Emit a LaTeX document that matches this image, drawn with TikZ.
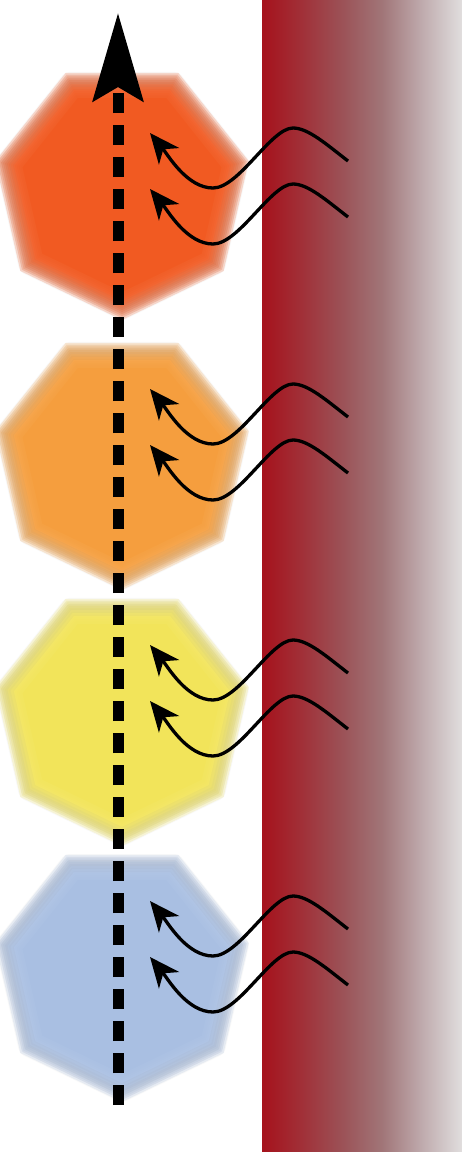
\documentclass[tikz,border=0pt]{standalone}
\usepackage{tikz}
\usetikzlibrary{arrows.meta,calc}
\usepackage{xcolor}
\definecolor{cellRed}{RGB}{241,90,34}
\definecolor{cellOrange}{RGB}{245,158,62}
\definecolor{cellYellow}{RGB}{242,228,90}
\definecolor{cellBlue}{RGB}{169,191,226}
\pgfdeclarehorizontalshading{wallshade}{100bp}{
  rgb(0bp)=(0.65,0.07,0.11); rgb(25bp)=(0.65,0.07,0.11);
  rgb(35bp)=(0.63,0.19,0.22); rgb(45bp)=(0.61,0.32,0.34);
  rgb(55bp)=(0.63,0.46,0.47); rgb(65bp)=(0.75,0.67,0.68);
  rgb(75bp)=(0.88,0.87,0.87); rgb(100bp)=(0.88,0.87,0.87)}

\begin{document}
\begin{tikzpicture}[
    x=1pt, y=-1pt,
    wall/.style={shading=wallshade},
    blur/.style={opacity=0.22},
    rim/.style={gray, opacity=0.05, line join=round},
    axis/.style={line width=11pt, dash pattern=on 20pt off 12pt,
        -{Stealth[length=88pt, width=50pt, inset=14pt]}},
    heat/.style={line width=3.3pt, -{Stealth[length=30pt, width=26pt, inset=9pt]}},
]
\useasboundingbox (0, 0) rectangle (462, 1152);
\shade[wall] (262, 0) rectangle (462, 1152);
% blurred heptagons
\foreach \cy/\col [count=\i] in {190/cellRed, 460/cellOrange, 716/cellYellow, 972/cellBlue} {
  \coordinate (cell-\i) at (122, \cy);
  \foreach \r in {130, 128, ..., 102}
    \fill[blur, \col] ([shift={(cell-\i)}]90:\r)
      \foreach \k in {1, ..., 6} { -- ([shift={(cell-\i)}]{90+\k*360/7}:\r) } -- cycle;
  \fill[\col] ([shift={(cell-\i)}]90:102)
    \foreach \k in {1, ..., 6} { -- ([shift={(cell-\i)}]{90+\k*360/7}:102) } -- cycle;
  \foreach \w in {6, 12, 18}
    \draw[rim, line width=\w pt] ([shift={(cell-\i)}]90:121)
      \foreach \k in {1, ..., 6} { -- ([shift={(cell-\i)}]{90+\k*360/7}:121) } -- cycle;
}
\coordinate (axis-start) at (118, 1105);
\coordinate (axis-end) at (118, 13);
\draw[axis] (axis-start) -- (axis-end);
% heat waves
\foreach \t [count=\i] in {133, 389, 645, 901} {
  \foreach \o [count=\j] in {0, 56} {
    \coordinate (hs-\i-\j) at (348, \t+\o+28);
    \coordinate (ht-\i-\j) at (150, \t+\o);
    \draw[heat] (hs-\i-\j) .. controls +(-22, -17) and +(15, 0) .. ++(-55, -33)
      .. controls +(-22, 0) and +(26, 0) .. ++(-80, 60)
      .. controls +(-26, 0) and +(18, 22) .. (ht-\i-\j);
  }
}
\end{tikzpicture}
\end{document}
